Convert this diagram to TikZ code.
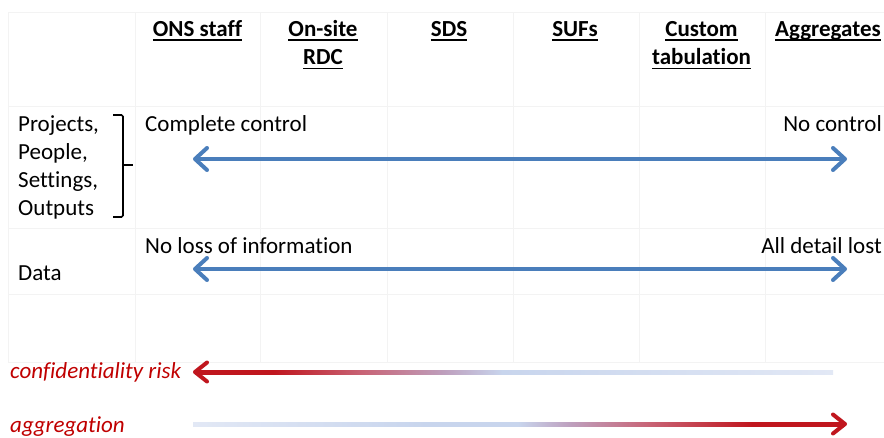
\documentclass[tikz,border=0pt]{standalone}
\usepackage{fontspec}
\setmainfont{Carlito}[Ligatures=NoCommon]
\usetikzlibrary{arrows.meta,calc}
\definecolor{arrblue}{RGB}{74,126,187}
\definecolor{txtred}{RGB}{192,0,0}
\definecolor{arrred}{RGB}{192,22,30}
\definecolor{gridc}{RGB}{243,243,243}
\definecolor{lblue}{RGB}{200,213,237}
\definecolor{pblue}{RGB}{226,232,245}
\definecolor{mauve}{RGB}{190,160,190}
\definecolor{rose}{RGB}{200,100,118}
\pgfdeclarehorizontalshading{riskshade}{100bp}{color(0bp)=(arrred); color(25bp)=(arrred); color(31bp)=(arrred); color(38bp)=(rose); color(44.5bp)=(mauve); color(49bp)=(lblue); color(75bp)=(pblue); color(100bp)=(pblue)}
\pgfdeclarehorizontalshading{aggshade}{100bp}{color(0bp)=(pblue); color(25bp)=(pblue); color(43bp)=(lblue); color(50bp)=(lblue); color(54bp)=(mauve); color(60bp)=(rose); color(68bp)=(arrred); color(75bp)=(arrred); color(100bp)=(arrred)}
\newcommand{\hul}[1]{\setbox0\hbox{#1}\rlap{\rule[-4.7pt]{\wd0}{1.4pt}}\box0}
\tikzset{
  hdr/.style={font=\fontsize{23}{28.5}\selectfont\bfseries, anchor=base, align=center, inner sep=0pt},
  lbl/.style={font=\fontsize{23}{28}\selectfont, align=left, inner sep=0pt},
  risk/.style={font=\fontsize{23}{28}\selectfont\itshape, text=txtred, inner sep=0pt, anchor=base west},
  gridline/.style={draw=gridc, line width=1pt},
  brk/.style={draw=black, line width=1.6pt, rounded corners=1.5pt},
  bluearrow/.style={draw=arrblue, line width=4pt, {Straight Barb[length=12pt,width=22pt,round]}-{Straight Barb[length=12pt,width=22pt,round]}},
  barb/.style={draw=arrred, line width=4pt, line cap=round, line join=round}
}
\begin{document}
\begin{tikzpicture}[x=1pt,y=-1pt]
\useasboundingbox (0,0) rectangle (884,437);
\fill[white] (0,0) rectangle (884,437);
% faint grid
\foreach \x in {8,135,260,387,513,639,765}
  \draw[gridline] (\x,12) -- (\x,362);
\foreach \y in {12,106,228,294,362}
  \draw[gridline] (8,\y) -- (884,\y);
% headers (multi-line nodes: base = last line)
\node[hdr] (ons) at (197.5,36) {\hul{ONS staff}};
\node[hdr] (rdc) at (323,64.5) {\hul{On-site}\\\hul{RDC}};
\node[hdr] (sds) at (449,36) {\hul{SDS}};
\node[hdr] (sufs) at (575,36) {\hul{SUFs}};
\node[hdr] (cust) at (701.5,64.5) {\hul{Custom}\\\hul{tabulation}};
\node[hdr] (aggr) at (828,36) {\hul{Aggregates}};
% left labels
\node[lbl, anchor=base west] (ppso) at (18,215) {Projects,\\People,\\Settings,\\Outputs};
\node[lbl, anchor=base west] (data) at (18,280) {Data};
\draw[brk] (113,115) -- (123,115) -- (123,217) -- (113,217);
\draw[brk] (123,165) -- (133,165);
% row texts
\node[lbl, anchor=base west] (cc) at (145,131) {Complete control};
\node[lbl, anchor=base east] (nc) at (882,131) {No control};
\node[lbl, anchor=base west] (nl) at (145,253) {No loss of information};
\node[lbl, anchor=base east] (dl) at (882,253) {All detail lost};
% blue arrows
\coordinate (a1l) at (193,159);
\coordinate (a1r) at (847,159);
\coordinate (a2l) at (193,269);
\coordinate (a2r) at (847,269);
\draw[bluearrow] (a1l) -- (a1r);
\draw[bluearrow] (a2l) -- (a2r);
% confidentiality risk
\node[risk] (conf) at (10,378) {confidentiality risk};
\coordinate (rl) at (195,372);
\coordinate (rr) at (833,372);
\shade[shading=riskshade] ($(rl)+(2,-2)$) rectangle ($(rr)+(0,2)$);
\draw[barb] ($(rl)+(12,-9.5)$) -- (rl) -- ($(rl)+(12,9.5)$);
% aggregation
\node[risk] (agg) at (10,432) {aggregation};
\coordinate (gl) at (193,424);
\coordinate (gr) at (845,424);
\shade[shading=aggshade] ($(gl)+(0,-2)$) rectangle ($(gr)+(-2,2)$);
\draw[barb] ($(gr)+(-12,-9.5)$) -- (gr) -- ($(gr)+(-12,9.5)$);
\end{tikzpicture}
\end{document}
